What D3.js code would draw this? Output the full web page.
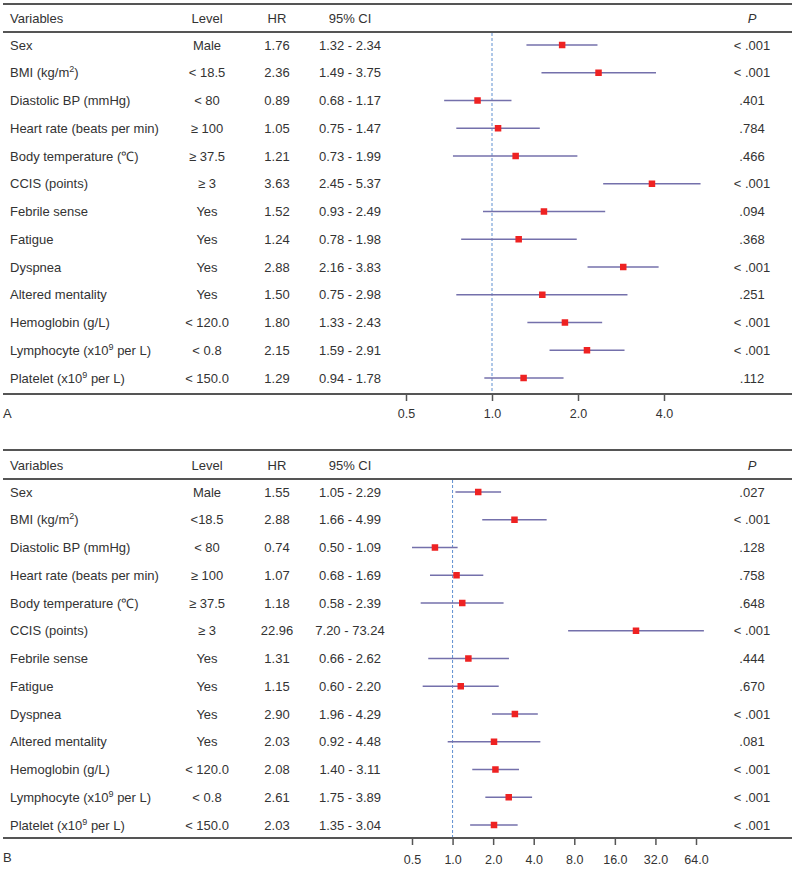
<!DOCTYPE html>
<html><head><meta charset="utf-8">
<script src="https://cdn.jsdelivr.net/npm/d3@7/dist/d3.min.js"></script>
<style>body{margin:0;background:#fff}svg{display:block}</style>
</head><body>
<svg id="chart" width="800" height="872"></svg>
<script>
// ---- DATA ----
const variables = ["Sex","BMI (kg/m|2|)","Diastolic BP (mmHg)","Heart rate (beats per min)","Body temperature (\u2103)","CCIS (points)","Febrile sense","Fatigue","Dyspnea","Altered mentality","Hemoglobin (g/L)","Lymphocyte (x10|9| per L)","Platelet (x10|9| per L)"];
const levelsA = ["Male","< 18.5","< 80","\u2265 100","\u2265 37.5","\u2265 3","Yes","Yes","Yes","Yes","< 120.0","< 0.8","< 150.0"];
const levelsB = ["Male","<18.5","< 80","\u2265 100","\u2265 37.5","\u2265 3","Yes","Yes","Yes","Yes","< 120.0","< 0.8","< 150.0"];
const hrA = [1.76,2.36,0.89,1.05,1.21,3.63,1.52,1.24,2.88,1.50,1.80,2.15,1.29];
const loA = [1.32,1.49,0.68,0.75,0.73,2.45,0.93,0.78,2.16,0.75,1.33,1.59,0.94];
const hiA = [2.34,3.75,1.17,1.47,1.99,5.37,2.49,1.98,3.83,2.98,2.43,2.91,1.78];
const pA = ["< .001","< .001",".401",".784",".466","< .001",".094",".368","< .001",".251","< .001","< .001",".112"];
const hrB = [1.55,2.88,0.74,1.07,1.18,22.96,1.31,1.15,2.90,2.03,2.08,2.61,2.03];
const loB = [1.05,1.66,0.50,0.68,0.58,7.20,0.66,0.60,1.96,0.92,1.40,1.75,1.35];
const hiB = [2.29,4.99,1.09,1.69,2.39,73.24,2.62,2.20,4.29,4.48,3.11,3.89,3.04];
const pB = [".027","< .001",".128",".758",".648","< .001",".444",".670","< .001",".081","< .001","< .001","< .001"];
const ticksA = [0.5,1,2,4];
const ticksB = [0.5,1,2,4,8,16,32,64];
const headers = ["Variables","Level","HR","95% CI","P"];

// ---- DRAW ----
const svg = d3.select("#chart");
const font = "'Liberation Sans', Arial, sans-serif";
const textCol = "#333";
const ruleCol = "#555";

function writeLabel(sel, s){
  const parts = s.split("|");
  parts.forEach((p,i)=>{
    if(i%2===1){
      sel.append("tspan").attr("dy",-5).attr("font-size","9px").text(p);
    } else if(i>0){
      sel.append("tspan").attr("dy",5).text(p);
    } else sel.append("tspan").text(p);
  });
}

function panel(cfg){
  const g = svg.append("g").attr("font-family",font).attr("font-size","13px").attr("fill",textCol);
  const x = d3.scaleLog().base(2).domain(cfg.domain).range(cfg.range);
  const y = i => cfg.row0 + i*27.75;
  const L = 3, R = 792;
  [cfg.top, cfg.headLine, cfg.axisY].forEach(v=>{
    g.append("line").attr("x1",L).attr("x2",R).attr("y1",v).attr("y2",v)
     .attr("stroke",ruleCol).attr("stroke-width",2);
  });
  const hx = [{x:10,a:"start"},{x:207,a:"middle"},{x:277,a:"middle"},{x:350,a:"middle"},{x:752,a:"middle"}];
  headers.forEach((h,i)=>{
    g.append("text").attr("x",hx[i].x).attr("y",cfg.headY).attr("dy","0.35em")
     .attr("text-anchor",hx[i].a).attr("font-style",i===4?"italic":"normal").text(h);
  });
  variables.forEach((v,i)=>{
    const t = g.append("text").attr("x",10).attr("y",y(i)).attr("dy","0.35em");
    writeLabel(t,v);
    g.append("text").attr("x",207).attr("y",y(i)).attr("dy","0.35em").attr("text-anchor","middle").text(cfg.levels[i]);
    g.append("text").attr("x",277).attr("y",y(i)).attr("dy","0.35em").attr("text-anchor","middle").text(cfg.hr[i].toFixed(2));
    g.append("text").attr("x",350).attr("y",y(i)).attr("dy","0.35em").attr("text-anchor","middle").text(cfg.lo[i].toFixed(2)+" - "+cfg.hi[i].toFixed(2));
    g.append("text").attr("x",752).attr("y",y(i)).attr("dy","0.35em").attr("text-anchor","middle").text(cfg.p[i]);
  });
  g.append("line").attr("x1",x(1)).attr("x2",x(1)).attr("y1",cfg.headLine+1).attr("y2",cfg.axisY-1)
   .attr("stroke","#5f8fd0").attr("stroke-width",1).attr("stroke-dasharray","3,2");
  g.selectAll("line.ci").data(cfg.hr).join("line").attr("class","ci")
   .attr("x1",(d,i)=>x(cfg.lo[i])).attr("x2",(d,i)=>x(cfg.hi[i]))
   .attr("y1",(d,i)=>y(i)).attr("y2",(d,i)=>y(i))
   .attr("stroke","#7470ab").attr("stroke-width",1.5);
  const s = 6.5;
  g.selectAll("rect.pt").data(cfg.hr).join("rect").attr("class","pt")
   .attr("x",d=>x(d)-s/2).attr("y",(d,i)=>y(i)-s/2).attr("width",s).attr("height",s)
   .attr("fill","#ee2222");
  const ax = g.append("g").attr("transform",`translate(0,${cfg.axisY})`)
    .call(d3.axisBottom(x).tickValues(cfg.ticks).tickFormat(d3.format(".1f")).tickSize(7).tickSizeOuter(0));
  ax.select(".domain").remove();
  ax.selectAll(".tick line").attr("stroke",ruleCol).attr("stroke-width",1.5).attr("y1",1);
  ax.selectAll(".tick text").attr("font-family",font).attr("font-size","12.5px").attr("fill",textCol).attr("y",cfg.tickLabY-cfg.axisY).attr("dy","0.35em");
  g.append("text").attr("x",3).attr("y",cfg.labY).attr("dy","0.35em").attr("font-size","13px").text(cfg.label);
}

panel({top:4, headY:18, headLine:32, row0:45, axisY:394, tickLabY:414, labY:413, label:"A",
  levels:levelsA, hr:hrA, lo:loA, hi:hiA, p:pA, ticks:ticksA, domain:[0.5,4], range:[406,664]});
panel({top:450, headY:465, headLine:479, row0:492, axisY:838, tickLabY:860, labY:857, label:"B",
  levels:levelsB, hr:hrB, lo:loB, hi:hiB, p:pB, ticks:ticksB, domain:[0.5,64], range:[412,696]});
</script>
</body></html>
